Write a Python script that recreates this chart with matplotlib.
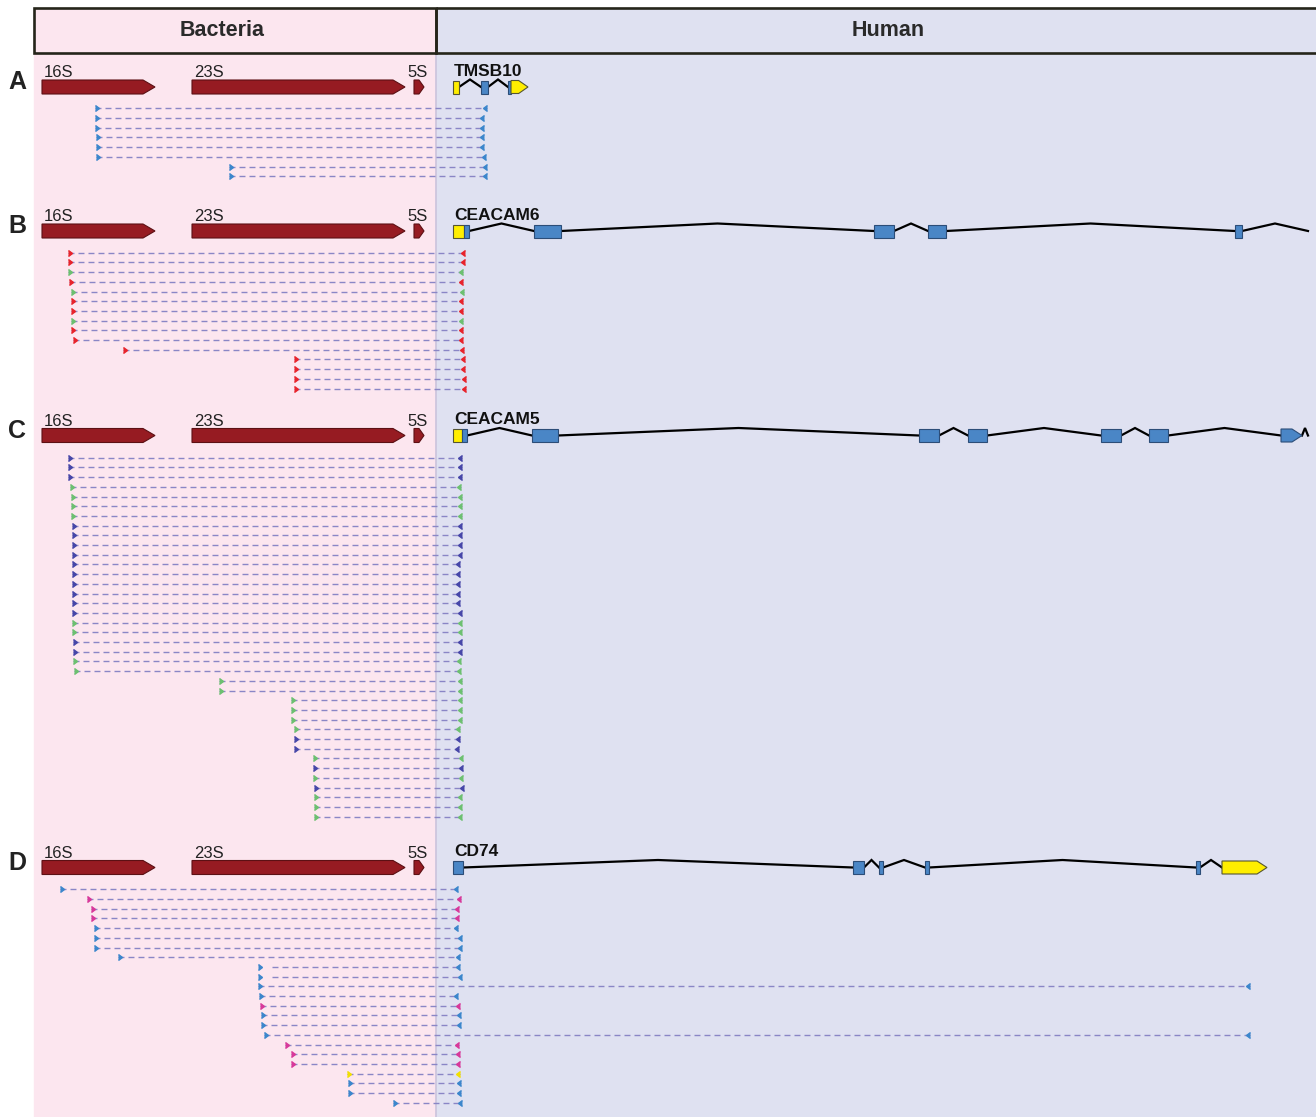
import matplotlib
matplotlib.use('Agg')
import matplotlib.pyplot as plt
from matplotlib.patches import Polygon, Rectangle
from matplotlib.markers import CARETRIGHTBASE, CARETLEFTBASE

plt.rcParams['font.family'] = ['Liberation Sans', 'DejaVu Sans']

W, H = 1316, 1117

# panels
panel_letters = ['A', 'B', 'C', 'D']
gene_y = [87, 231, 435.5, 867.5]
read_y0 = [108.3, 252.7, 457.7, 889.3]
read_step = 9.7

# bacterial rRNA operon (same in every panel)
bac_names = ['16S', '23S', '5S']
bac_x0 = [42, 192, 414]
bac_x1 = [155, 405, 424]
bac_head = [12, 12, 5]

# human genes: features (x0, x1, kind); kinds: utr, exon, utr_arrow, exon_arrow, end
gene_names = ['TMSB10', 'CEACAM6', 'CEACAM5', 'CD74']
gene_features = [
    [(453, 459, 'utr'), (481, 488, 'exon'), (508, 511, 'exon'), (511, 528, 'utr_arrow')],
    [(453, 464, 'utr'), (464, 469, 'exon'), (534, 561, 'exon'), (874, 894, 'exon'),
     (928, 946, 'exon'), (1235, 1242, 'exon'), (1308, 1308, 'end')],
    [(453, 462, 'utr'), (462, 467, 'exon'), (532, 558, 'exon'), (919, 939, 'exon'),
     (968, 987, 'exon'), (1101, 1121, 'exon'), (1149, 1168, 'exon'),
     (1281, 1302, 'exon_arrow'), (1308, 1308, 'end')],
    [(453, 463, 'exon'), (853, 864, 'exon'), (879, 883, 'exon'), (925, 929, 'exon'),
     (1196, 1200, 'exon'), (1222, 1267, 'utr_arrow')],
]

# chimeric reads per panel: start x, end x, colour code
a_start = [95, 95, 95, 96, 96, 96, 229, 229]
a_end = [487, 484, 484, 484, 484, 486, 487, 487]
a_color = list('bbbbbbbb')

b_start = [68, 68, 68, 69, 71, 71, 71, 71, 71, 73, 123, 294, 294, 294, 294]
b_end = [465, 465, 463, 463, 464, 463, 463, 463, 463, 463, 464, 465, 465, 466, 466]
b_color = list('rrgrgrrgrrrrrrr')

c_start = [68, 68, 68, 70, 71, 71, 71, 72, 72, 72, 72, 72, 72, 72, 72, 72, 72, 72, 72,
           73, 73, 73, 74, 219, 219, 291, 291, 291, 294, 294, 294, 313, 313, 313,
           314, 314, 314, 314]
c_end = [462, 462, 462, 461, 462, 462, 462, 462, 462, 462, 462, 460, 460, 460, 460, 460,
         462, 462, 462, 462, 462, 461, 461, 462, 462, 462, 462, 462, 460, 460, 459,
         463, 463, 463, 464, 462, 462, 462]
c_color = list('pppggggppppppppppggppggggggggppgpgpgggp')[:38]

d_start = [60, 87, 91, 91, 94, 94, 94, 118, 258, 258, 258, 259, 260, 261, 261, 264,
           285, 291, 291, 347, 348, 348, 393]
d_end = [458, 461, 459, 459, 458, 462, 462, 460, 460, 462, 1250, 458, 460, 461, 461,
         1250, 459, 460, 460, 460, 461, 461, 462]
d_color = list('bmmmbbbbbbbbmbbbmmmybbb')
d_dash_from = {8: 272, 9: 272}

reads = [(a_start, a_end, a_color, {}), (b_start, b_end, b_color, {}),
         (c_start, c_end, c_color, {}), (d_start, d_end, d_color, d_dash_from)]

palette = {'b': '#3b86cc', 'r': '#e8232b', 'g': '#6cc070', 'p': '#4646a8',
           'm': '#d8389a', 'y': '#f2e000'}
dash_col = '#8a86c6'
pink = '#fce6ef'
lav = '#dfe1f1'


def main():
    fig = plt.figure(figsize=(W / 100, H / 100), dpi=100)
    ax = fig.add_axes([0, 0, 1, 1])
    ax.set_xlim(0, W)
    ax.set_ylim(H, 0)
    ax.axis('off')

    # backgrounds and header
    ax.add_patch(Rectangle((34, 8), 402, H, color=pink, zorder=0))
    ax.add_patch(Rectangle((436, 8), W - 436 + 5, H, color=lav, zorder=0))
    ax.plot([436, 436], [53, H], color='#cbc3dc', lw=1.2, zorder=1)
    for x0, x1 in [(34, 436), (436, W + 5)]:
        ax.add_patch(Rectangle((x0, 8), x1 - x0, 45, fill=False, ec='#25251a', lw=1.9, zorder=5))
    ax.text(222, 30, 'Bacteria', ha='center', va='center', fontsize=15.5,
            fontweight='bold', color='#2a2a2a')
    ax.text(888, 30, 'Human', ha='center', va='center', fontsize=15.5,
            fontweight='bold', color='#2a2a2a')

    for i, letter in enumerate(panel_letters):
        gy = gene_y[i]
        ax.text(17, gy - 5, letter, ha='center', va='center', fontsize=18,
                fontweight='bold', color='#222222')

        # bacterial genes
        for name, x0, x1, hd in zip(bac_names, bac_x0, bac_x1, bac_head):
            h = 7
            pts = [(x0, gy - h), (x1 - hd, gy - h), (x1, gy), (x1 - hd, gy + h), (x0, gy + h)]
            ax.add_patch(Polygon(pts, closed=True, fc='#961b22', ec='#5c1014', lw=0.8, zorder=3))
            if name == '5S':
                ax.text(428, gy - 10, name, ha='right', va='baseline', fontsize=12, color='#222222')
            else:
                ax.text(x0 + 2, gy - 10, name, ha='left', va='baseline', fontsize=12, color='#222222')

        # human gene
        feats = gene_features[i]
        ax.text(454, gy - 11, gene_names[i], ha='left', va='baseline', fontsize=12.5,
                fontweight='bold', color='#111111')
        for (x0, x1, k), (n0, n1, nk) in zip(feats[:-1], feats[1:]):
            if n0 > x1:
                ax.plot([x1, (x1 + n0) / 2, n0], [gy, gy - 7.5, gy], color='black',
                        lw=1.6, zorder=3, solid_joinstyle='miter')
        h = 6.5
        for x0, x1, k in feats:
            if k == 'end':
                continue
            fc = '#ffee00' if k.startswith('utr') else '#4a86c6'
            ec = '#555533' if k.startswith('utr') else '#2c4d78'
            if k.endswith('arrow'):
                hd = min(10, (x1 - x0) * 0.55)
                pts = [(x0, gy - h), (x1 - hd, gy - h), (x1, gy), (x1 - hd, gy + h), (x0, gy + h)]
                ax.add_patch(Polygon(pts, closed=True, fc=fc, ec=ec, lw=0.8, zorder=4))
            else:
                ax.add_patch(Rectangle((x0, gy - h), x1 - x0, 2 * h, fc=fc, ec=ec, lw=0.8, zorder=4))

        # reads
        starts, ends, cols, gaps = reads[i]
        for j, (s, e, c) in enumerate(zip(starts, ends, cols)):
            y = read_y0[i] + j * read_step
            ax.plot([gaps.get(j, s), e], [y, y], color=dash_col, lw=1.0,
                    linestyle=(0, (4.3, 2.9)), zorder=3)
            ax.plot(s, y, marker=CARETRIGHTBASE, ms=4, color=palette[c], zorder=4)
            ax.plot(e, y, marker=CARETLEFTBASE, ms=4, color=palette[c], zorder=4)

    fig.savefig('out.png', dpi=100)


if __name__ == '__main__':
    main()
